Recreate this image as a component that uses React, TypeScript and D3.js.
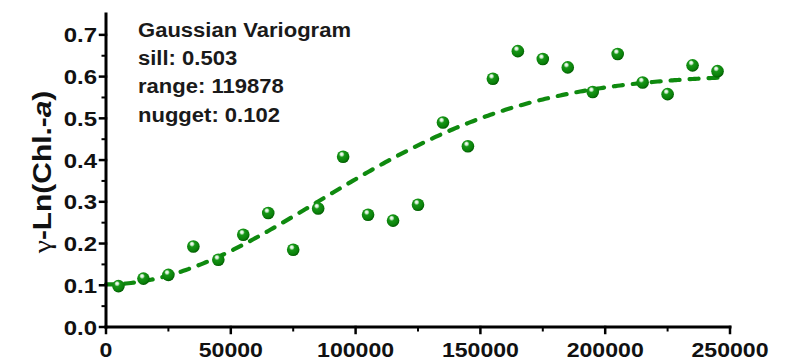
import React from "react";
import * as d3 from "d3";

// Experimental semivariogram: lag distance (m) and semivariance of ln(Chl-a)
const lagDistance = [
  5000, 15000, 25000, 35000, 45000, 55000, 65000, 75000, 85000, 95000,
  105000, 115000, 125000, 135000, 145000, 155000, 165000, 175000, 185000,
  195000, 205000, 215000, 225000, 235000, 245000,
];
const semivariance = [
  0.098, 0.116, 0.125, 0.193, 0.161, 0.221, 0.273, 0.185, 0.284, 0.408,
  0.269, 0.255, 0.293, 0.49, 0.433, 0.595, 0.661, 0.642, 0.622, 0.563,
  0.654, 0.586, 0.558, 0.627, 0.613,
];

// Fitted Gaussian model parameters
const modelName = "Gaussian Variogram";
const sill = 0.503;
const range = 119878;
const nugget = 0.102;

const xTicks = [0, 50000, 100000, 150000, 200000, 250000];
const yTicks = [0, 0.1, 0.2, 0.3, 0.4, 0.5, 0.6, 0.7];

const W = 795;
const H = 363;
const green = "#0f8a0f";
const sans = "'Liberation Sans', Arial, sans-serif";

export default function App() {
  const x = d3.scaleLinear().domain([0, 250000]).range([106, 730]);
  const y = d3.scaleLinear().domain([0, 0.75]).range([327, 14]);

  const gaussian = (h: number) =>
    nugget + sill * (1 - Math.exp(-((h / range) ** 2)));
  const curveX = d3.range(0, 247001, 1000);
  const line = d3
    .line<number>()
    .x((h) => x(h))
    .y((h) => y(gaussian(h)))
    .curve(d3.curveMonotoneX);

  const xMinor = d3.range(25000, 250000, 50000);
  const yMinor = d3.range(0.05, 0.75, 0.1);

  const annotation = [
    modelName,
    `sill: ${sill.toFixed(3)}`,
    `range: ${range}`,
    `nugget: ${nugget.toFixed(3)}`,
  ];

  return (
    <svg
      width={W}
      height={H}
      style={{ position: "absolute", left: 0, top: 0, background: "#fff" }}
    >
      <defs>
        <radialGradient id="ball" cx="0.42" cy="0.38" r="0.62" fx="0.38" fy="0.28">
          <stop offset="0" stopColor="#ffffff" />
          <stop offset="0.18" stopColor="#cfeccf" />
          <stop offset="0.36" stopColor="#169616" />
          <stop offset="0.8" stopColor="#0a800a" />
          <stop offset="1" stopColor="#005a00" />
        </radialGradient>
      </defs>

      {/* fitted model */}
      <path
        d={line(curveX) || ""}
        fill="none"
        stroke={green}
        strokeWidth={4.2}
        strokeDasharray="9 10"
        strokeLinecap="round"
      />

      {/* experimental points */}
      {lagDistance.map((h, i) => (
        <circle
          key={h}
          cx={x(h)}
          cy={y(semivariance[i])}
          r={6.3}
          fill="url(#ball)"
        />
      ))}

      {/* axes */}
      <g stroke="#000" strokeLinecap="square">
        <line x1={x(0)} x2={x(0)} y1={y(0.75)} y2={y(0)} strokeWidth={3} />
        <line x1={x(0)} x2={x(250000)} y1={y(0)} y2={y(0)} strokeWidth={3} />
        {yTicks.map((t) => (
          <line key={t} x1={x(0) - 6} x2={x(0)} y1={y(t)} y2={y(t)} strokeWidth={2.5} />
        ))}
        {yMinor.map((t) => (
          <line key={t} x1={x(0) - 3.5} x2={x(0)} y1={y(t)} y2={y(t)} strokeWidth={2} />
        ))}
        {xTicks.map((t) => (
          <line key={t} x1={x(t)} x2={x(t)} y1={y(0)} y2={y(0) + 6} strokeWidth={2.5} />
        ))}
        {xMinor.map((t) => (
          <line key={t} x1={x(t)} x2={x(t)} y1={y(0)} y2={y(0) + 3.5} strokeWidth={2} />
        ))}
      </g>

      {/* tick labels */}
      <g fontFamily={sans} fontWeight="bold" fill="#111">
        {yTicks.map((t) => (
          <text
            key={t}
            transform={`translate(97,${y(t) + 7.5}) scale(1.2,1)`}
            fontSize={20}
            textAnchor="end"
          >
            {t.toFixed(1)}
          </text>
        ))}
        {xTicks.map((t) => (
          <text
            key={t}
            transform={`translate(${x(t)},357) scale(1.1,1)`}
            fontSize={21}
            textAnchor="middle"
          >
            {t}
          </text>
        ))}
      </g>

      {/* model annotation */}
      <g fontFamily={sans} fontWeight="bold" fill="#1a1a1a">
        {annotation.map((s, i) => (
          <text
            key={s}
            transform={`translate(138,${36.7 + i * 28.3}) scale(1.13,1)`}
            fontSize={19.5}
          >
            {s}
          </text>
        ))}
      </g>

      {/* y-axis title */}
      <text
        transform="translate(51,172) rotate(-90) scale(1.15,1)"
        textAnchor="middle"
        fontFamily={sans}
        fontWeight="bold"
        fontSize={26}
        fill="#111"
      >
        <tspan fontFamily="'Liberation Serif', 'Times New Roman', serif" fontWeight="normal">
          γ
        </tspan>
        <tspan>-Ln(Chl.-</tspan>
        <tspan fontStyle="italic">a</tspan>
        <tspan>)</tspan>
      </text>
    </svg>
  );
}
